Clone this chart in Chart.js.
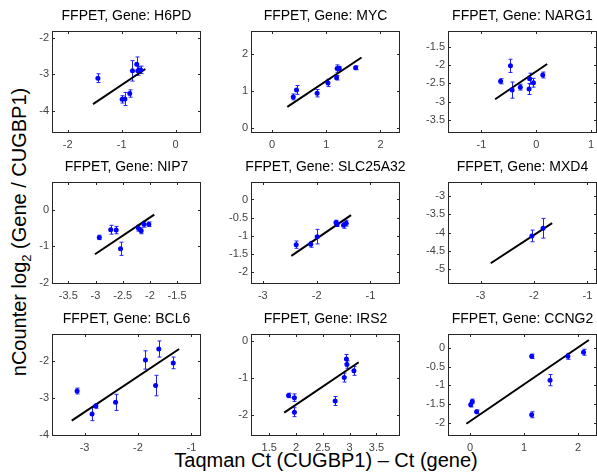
<!DOCTYPE html>
<html>
<head>
<meta charset="utf-8">
<script src="https://cdn.jsdelivr.net/npm/chart.js@4.4.0/dist/chart.umd.min.js"></script>
<style>
  body { margin: 0; background: #fff; }
  #wrap { position: relative; width: 597px; height: 476px; overflow: hidden; font-family: "Liberation Sans", Arial, sans-serif; }
  canvas { position: absolute; }
  #ytitle { position: absolute; left: 21px; top: 232px; transform: translate(-50%, -50%) rotate(-90deg); white-space: nowrap; font-size: 20px; }
  #ytitle sub { font-size: 13px; }
  #xtitle { position: absolute; left: 326px; top: 449px; transform: translateX(-50%); white-space: nowrap; font-size: 20px; }
</style>
</head>
<body>
<div id="wrap">
  <div id="ytitle">nCounter log<sub>2</sub> (Gene / CUGBP1)</div>
  <div id="xtitle">Taqman Ct (CUGBP1) – Ct (gene)</div>
</div>
<script>
// one entry per panel, row by row
const genes = ['H6PD', 'MYC', 'NARG1', 'NIP7', 'SLC25A32', 'MXD4', 'BCL6', 'IRS2', 'CCNG2'];

// Taqman Ct(CUGBP1) - Ct(gene)
const ctDiff = [
  [-1.44, -0.99, -0.94, -0.85, -0.80, -0.72, -0.70, -0.65],
  [0.39, 0.45, 0.83, 1.03, 1.19, 1.20, 1.24, 1.54],
  [-0.65, -0.47, -0.44, -0.29, -0.12, -0.13, -0.05, 0.12],
  [-2.93, -2.72, -2.62, -2.54, -2.21, -2.16, -2.11, -2.02],
  [-2.38, -2.11, -1.99, -1.64, -1.62, -1.50, -1.45],
  [-2.04, -1.83],
  [-3.14, -2.86, -2.79, -2.42, -1.86, -1.67, -1.61, -1.34],
  [1.86, 1.97, 1.97, 2.73, 2.90, 2.94, 2.95, 3.08],
  [0.01, 0.04, 0.12, 1.14, 1.14, 1.48, 1.81, 2.10]
];

// nCounter log2(gene / CUGBP1)
const log2Ratio = [
  [-3.11, -3.69, -3.68, -3.53, -2.91, -2.73, -2.91, -2.88],
  [0.84, 1.03, 0.94, 1.22, 1.36, 1.61, 1.61, 1.63],
  [-2.44, -2.02, -2.68, -2.60, -2.37, -2.65, -2.48, -2.27],
  [-0.76, -0.55, -0.56, -1.07, -0.51, -0.58, -0.40, -0.40],
  [-1.24, -1.23, -1.02, -0.63, -0.68, -0.71, -0.65],
  [-4.09, -3.88],
  [-2.81, -3.44, -3.22, -3.12, -1.96, -2.66, -1.66, -2.04],
  [-1.47, -1.53, -1.92, -1.62, -0.99, -0.49, -0.64, -0.81],
  [-1.52, -1.43, -1.71, -0.22, -1.79, -0.86, -0.22, -0.11]
];

// half length of the error bars
const log2Err = [
  [0.12, 0.10, 0.18, 0.10, 0.28, 0.20, 0.12, 0.10],
  [0.08, 0.12, 0.10, 0.10, 0.06, 0.10, 0.06, 0.05],
  [0.07, 0.18, 0.22, 0.08, 0.15, 0.15, 0.12, 0.08],
  [0.06, 0.12, 0.10, 0.18, 0.08, 0.08, 0.08, 0.06],
  [0.10, 0.08, 0.20, 0.06, 0.06, 0.08, 0.08],
  [0.16, 0.27],
  [0.08, 0.18, 0.06, 0.22, 0.25, 0.28, 0.22, 0.16],
  [0.06, 0.10, 0.12, 0.12, 0.12, 0.12, 0.10, 0.12],
  [0.06, 0.06, 0.05, 0.06, 0.08, 0.15, 0.08, 0.08]
];

// fitted line end points
const fitX = [[-1.53, -0.56], [0.28, 1.65], [-0.75, 0.20], [-3.01, -1.92], [-2.47, -1.36],
              [-2.81, -1.66], [-3.24, -1.23], [1.78, 3.17], [-0.07, 2.20]];
const fitY = [[-3.82, -2.86], [0.57, 1.91], [-2.93, -1.97], [-1.22, -0.14], [-1.55, -0.43],
              [-4.84, -3.74], [-3.62, -1.66], [-1.93, -0.58], [-2.03, 0.22]];

const xRange = [[-2.29, 0.47], [-0.39, 2.36], [-1.61, 1.11], [-3.8, -1.06], [-3.22, -0.45],
                [-3.61, -0.82], [-3.61, -0.82], [1.16, 3.94], [-0.41, 2.35]];
const yRange = [[-4.61, -1.82], [-0.14, 2.63], [-3.85, -1.07], [-2.03, 0.75], [-2.32, 0.48],
                [-5.41, -2.61], [-4.04, -1.25], [-2.56, 0.18], [-2.36, 0.38]];

const xTicks = [[-2, -1, 0], [0, 1, 2], [-1, 0, 1], [-3.5, -3, -2.5, -2, -1.5], [-3, -2, -1],
                [-3, -2, -1], [-3, -2, -1], [1.5, 2, 2.5, 3, 3.5], [0, 1, 2]];
const yTicks = [[-2, -3, -4], [0, 1, 2], [-1.5, -2, -2.5, -3, -3.5], [0, -1, -2], [0, -0.5, -1, -1.5, -2],
                [-3, -3.5, -4, -4.5, -5], [-2, -3, -4], [0, -1, -2], [0, -0.5, -1, -1.5, -2]];

const colLeft = [52, 251, 448];
const rowTop = [31, 182, 334];
const plotW = 149, plotH = 102;
// canvas is symmetric around the plot box so the title centres over it
const padL = 40, padR = 40, padT = 26, padB = 22;

const FONT = '"Liberation Sans", Arial, sans-serif';

// MATLAB-ish box with inward ticks on all four sides
const boxPlugin = {
  id: 'boxTicks',
  afterDraw(chart) {
    const { ctx, chartArea: a, scales } = chart;
    ctx.save();
    ctx.strokeStyle = '#262626';
    ctx.lineWidth = 1;
    ctx.strokeRect(Math.round(a.left) + 0.5, Math.round(a.top) + 0.5,
                   Math.round(a.right - a.left) - 1, Math.round(a.bottom - a.top) - 1);
    ctx.beginPath();
    scales.x.ticks.forEach(t => {
      const px = Math.round(scales.x.getPixelForValue(t.value)) + 0.5;
      ctx.moveTo(px, a.bottom); ctx.lineTo(px, a.bottom - 3);
      ctx.moveTo(px, a.top); ctx.lineTo(px, a.top + 3);
    });
    scales.y.ticks.forEach(t => {
      const py = Math.round(scales.y.getPixelForValue(t.value)) + 0.5;
      ctx.moveTo(a.left, py); ctx.lineTo(a.left + 3, py);
      ctx.moveTo(a.right, py); ctx.lineTo(a.right - 3, py);
    });
    ctx.stroke();
    ctx.restore();
  }
};

const errorBarPlugin = {
  id: 'errorBars',
  beforeDatasetsDraw(chart) {
    const { ctx, scales } = chart;
    const ds = chart.data.datasets[0];
    ctx.save();
    ctx.strokeStyle = '#2020ff';
    ctx.lineWidth = 1;
    ctx.beginPath();
    ds.data.forEach((p, i) => {
      const e = ds.errors[i];
      const px = Math.round(scales.x.getPixelForValue(p.x)) + 0.5;
      const y1 = scales.y.getPixelForValue(p.y - e);
      const y2 = scales.y.getPixelForValue(p.y + e);
      ctx.moveTo(px, y1); ctx.lineTo(px, y2);
      ctx.moveTo(px - 2, y1); ctx.lineTo(px + 2, y1);
      ctx.moveTo(px - 2, y2); ctx.lineTo(px + 2, y2);
    });
    ctx.stroke();
    ctx.restore();
  }
};

const wrap = document.getElementById('wrap');

function drawPanel(gene, i) {
  const col = i % 3, row = Math.floor(i / 3);
  const canvas = document.createElement('canvas');
  canvas.width = padL + plotW + padR;
  canvas.height = padT + plotH + padB;
  canvas.style.left = (colLeft[col] - padL) + 'px';
  canvas.style.top = (rowTop[row] - padT) + 'px';
  wrap.appendChild(canvas);

  const points = ctDiff[i].map((x, j) => ({ x: x, y: log2Ratio[i][j] }));
  const fit = fitX[i].map((x, j) => ({ x: x, y: fitY[i][j] }));

  new Chart(canvas.getContext('2d'), {
    type: 'scatter',
    data: {
      datasets: [
        {
          data: points,
          errors: log2Err[i],
          pointRadius: 2.5,
          pointBackgroundColor: '#0000ff',
          pointBorderColor: '#0000ff',
          borderWidth: 0,
          order: 0
        },
        {
          type: 'line',
          data: fit,
          borderColor: '#000',
          borderWidth: 2,
          pointRadius: 0,
          fill: false,
          order: 1
        }
      ]
    },
    options: {
      responsive: false,
      animation: false,
      devicePixelRatio: 1,
      layout: { padding: 0 },
      plugins: {
        legend: { display: false },
        tooltip: { enabled: false },
        title: {
          display: true,
          text: 'FFPET, Gene: ' + gene,
          color: '#000',
          font: { family: FONT, size: 14, weight: 'normal', lineHeight: 1.2 },
          padding: { top: 2.5, bottom: 6.7 }
        }
      },
      scales: {
        x: {
          type: 'linear',
          min: xRange[i][0],
          max: xRange[i][1],
          grid: { display: false, drawTicks: false },
          border: { display: false },
          afterBuildTicks: s => { s.ticks = xTicks[i].map(v => ({ value: v })); },
          afterFit: s => { s.height = padB; },
          ticks: {
            color: '#444',
            padding: 5,
            maxRotation: 0,
            font: { family: FONT, size: 11 },
            callback: v => String(v)
          }
        },
        y: {
          type: 'linear',
          min: yRange[i][0],
          max: yRange[i][1],
          grid: { display: false, drawTicks: false },
          border: { display: false },
          afterBuildTicks: s => { s.ticks = yTicks[i].map(v => ({ value: v })); },
          afterFit: s => { s.width = padL; },
          ticks: {
            color: '#444',
            padding: 3,
            font: { family: FONT, size: 11 },
            callback: v => String(v)
          }
        },
        // empty right axis, only there to balance the left margin
        yRight: {
          type: 'linear',
          position: 'right',
          min: yRange[i][0],
          max: yRange[i][1],
          grid: { display: false, drawTicks: false },
          border: { display: false },
          ticks: { display: false },
          afterFit: s => { s.width = padR; }
        }
      }
    },
    plugins: [errorBarPlugin, boxPlugin]
  });
}

Promise.all([
  document.fonts.load('14px "Liberation Sans"'),
  document.fonts.load('11px "Liberation Sans"')
]).catch(() => {}).then(() => genes.forEach(drawPanel));
</script>
</body>
</html>
